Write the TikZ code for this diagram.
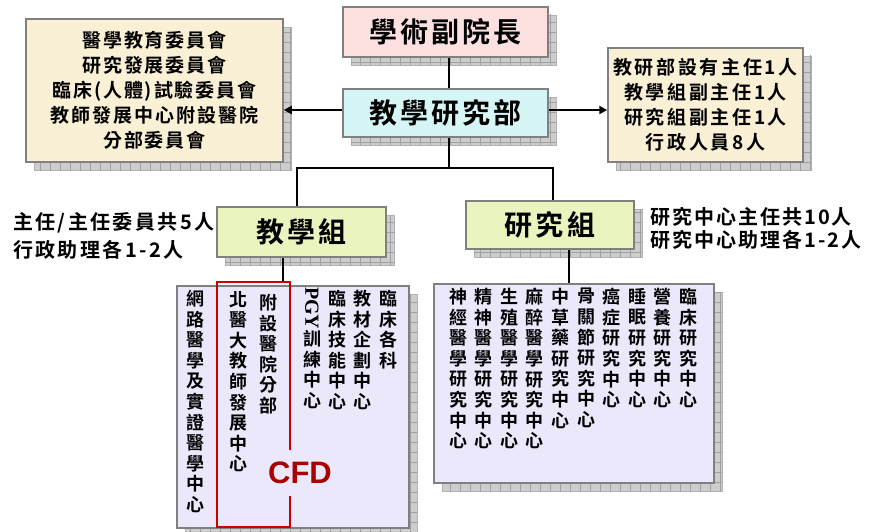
\documentclass[tikz,border=0pt]{standalone}
\usepackage{fontspec}
\usepackage{graphicx}
\IfFontExistsTF{Noto Sans CJK TC Bold}
  {\setmainfont{Noto Sans CJK TC}[BoldFont={Noto Sans CJK TC Bold}]}
  {\setmainfont{Noto Sans CJK TC}[BoldFont={Noto Sans CJK TC}, BoldFeatures={FakeBold=3}]}
\newfontfamily\arialb{Liberation Sans}
\newfontfamily\timesf{Liberation Serif}
\usetikzlibrary{shadows,arrows.meta,calc,patterns.meta}
\newcommand\lsp[1]{\addfontfeature{LetterSpace=#1}}
\ExplSyntaxOn
\NewDocumentCommand\vtext{m}{
  \seq_clear:N \l_tmpa_seq
  \tl_map_inline:nn {#1} { \seq_put_right:Nn \l_tmpa_seq {##1} }
  \seq_use:Nn \l_tmpa_seq {\\}
}
\ExplSyntaxOff
\definecolor{pinkf}{RGB}{253,224,224}
\definecolor{cyanf}{RGB}{214,246,246}
\definecolor{beigef}{RGB}{250,240,214}
\definecolor{limef}{RGB}{234,244,190}
\definecolor{lavf}{RGB}{236,232,252}
\definecolor{boxline}{RGB}{128,128,128}
\definecolor{cfdred}{RGB}{204,0,0}
\definecolor{cfdtext}{RGB}{170,0,0}
\definecolor{shadowf}{RGB}{205,205,205}
\definecolor{shadowgrid}{RGB}{160,160,160}
\tikzset{
  box/.style={draw=boxline, line width=1.5pt, inner sep=0pt, align=center,
    drop shadow={shadow xshift=8pt, shadow yshift=-8pt, fill=shadowf, draw=gray!60, line width=0.5pt, opacity=1,
      postaction={draw=none, pattern={Lines[distance=10pt,angle=0,line width=0.5pt]}, pattern color=shadowgrid},
      postaction={draw=none, pattern={Lines[distance=10pt,angle=90,line width=0.5pt]}, pattern color=shadowgrid}}},
  titlefont/.style={font=\fontsize{28}{30}\selectfont\bfseries\lsp{11}},
  link/.style={line width=2pt, draw=black},
  arr/.style={link, -{Triangle[length=8pt,width=8pt]}},
  col/.style={anchor=north, inner sep=0pt, align=center, font=\fontsize{18}{20.6}\selectfont\bfseries},
  hint/.style={anchor=west, inner sep=0pt, align=left},
  redframe/.style={draw=cfdred, line width=2.5pt, inner sep=0pt},
}
\begin{document}
\begin{tikzpicture}[x=1pt,y=-1pt]
\useasboundingbox[fill=white] (0,0) rectangle (870,532);
% top boxes
\node[box, fill=pinkf, minimum width=205pt, minimum height=50pt, titlefont] (vp) at (445.5,32) {學術副院長};
\node[box, fill=cyanf, minimum width=205pt, minimum height=48pt, titlefont] (dept) at (445.5,113) {教學研究部};
\node[box, fill=beigef, minimum width=257pt, minimum height=143pt, font=\fontsize{19}{25}\selectfont\bfseries\lsp{10}] (lbox) at (154.5,90.5)
  {醫學教育委員會\\研究發展委員會\\臨床(人體)試驗委員會\\教師發展中心附設醫院\\分部委員會};
\node[box, fill=beigef, minimum width=195pt, minimum height=114pt, font=\fontsize{19}{25}\selectfont\bfseries\lsp{14}] (rbox) at (705.5,105)
  {教研部設有主任1人\\教學組副主任1人\\研究組副主任1人\\行政人員8人};
% groups
\node[box, fill=limef, minimum width=169pt, minimum height=50pt, titlefont] (teach) at (301.5,232) {教學組};
\node[box, fill=limef, minimum width=168pt, minimum height=48pt, titlefont] (res) at (550,225) {研究組};
\node[hint, font=\fontsize{20}{28}\selectfont\bfseries\lsp{12}] (lhint) at (13,236) {主任/主任委員共5人\\行政助理各1-2人};
\node[hint, font=\fontsize{20}{23}\selectfont\bfseries\lsp{10}] (rhint) at (650,228.5) {研究中心主任共10人\\研究中心助理各1-2人};
% lower boxes
\node[box, fill=lavf, minimum width=232pt, minimum height=242pt] (lowL) at (293,407) {};
\node[box, fill=lavf, minimum width=280pt, minimum height=199pt] (lowR) at (574,383.5) {};
% left lower columns
\node[col] (l1) at (195,290) {\vtext{網路醫學及實證醫學中心}};
\node[col] (l2) at (238,291) {\vtext{北醫大教師發展中心}};
\node[col] (l3) at (268,294) {\vtext{附設醫院分部}};
\node[col] (l4) at (312,287) {\rotatebox{-90}{\timesf\fontsize{20}{20}\selectfont\bfseries PGY}\\\vtext{訓練中心}};
\node[col] (l5) at (337,290) {\vtext{臨床技能中心}};
\node[col] (l6) at (362,290) {\vtext{教材企劃中心}};
\node[col] (l7) at (388,290) {\vtext{臨床各科}};
% red CFD frame
\node[redframe, minimum width=73pt, minimum height=245pt] (cfdframe) at (253.5,404.5) {};
\node[fill=lavf, inner xsep=2pt, inner ysep=12pt, text=cfdtext, font=\arialb\fontsize{31}{31}\selectfont\bfseries] (cfd) at (300,473) {CFD};
% right lower columns
\node[col] (r1) at (458,288) {\vtext{神經醫學研究中心}};
\node[col] (r2) at (483.6,288) {\vtext{精神醫學研究中心}};
\node[col] (r3) at (509.2,288) {\vtext{生殖醫學研究中心}};
\node[col] (r4) at (534.8,288) {\vtext{麻醉醫學研究中心}};
\node[col] (r5) at (560.4,288) {\vtext{中草藥研究中心}};
\node[col] (r6) at (586,288) {\vtext{骨關節研究中心}};
\node[col] (r7) at (611.6,288) {\vtext{癌症研究中心}};
\node[col] (r8) at (637.2,288) {\vtext{睡眠研究中心}};
\node[col] (r9) at (662.8,288) {\vtext{營養研究中心}};
\node[col] (r10) at (688.4,288) {\vtext{臨床研究中心}};
% connectors
\coordinate (jy) at (0,168);
\draw[link] ([xshift=3.5pt]vp.south) -- ([xshift=3.5pt]dept.north);
\draw[link] ([xshift=3.5pt]dept.south) -- ([xshift=3.5pt]dept.south |- jy) coordinate (j);
\draw[link] ([xshift=-4.5pt]teach.north) |- (j) -| ([xshift=3pt]res.north);
\draw[link] ([xshift=-18.5pt]teach.south) -- ([xshift=-18.5pt]teach.south |- cfdframe.north);
\draw[link] ([xshift=19pt]res.south) -- ([xshift=19pt]res.south |- lowR.north);
\draw[arr] ([yshift=3pt]dept.west) -- ([yshift=3pt]dept.west -| lbox.east);
\draw[arr] ([yshift=3pt]dept.east) -- ([yshift=3pt]dept.east -| rbox.west);
\end{tikzpicture}
\end{document}
